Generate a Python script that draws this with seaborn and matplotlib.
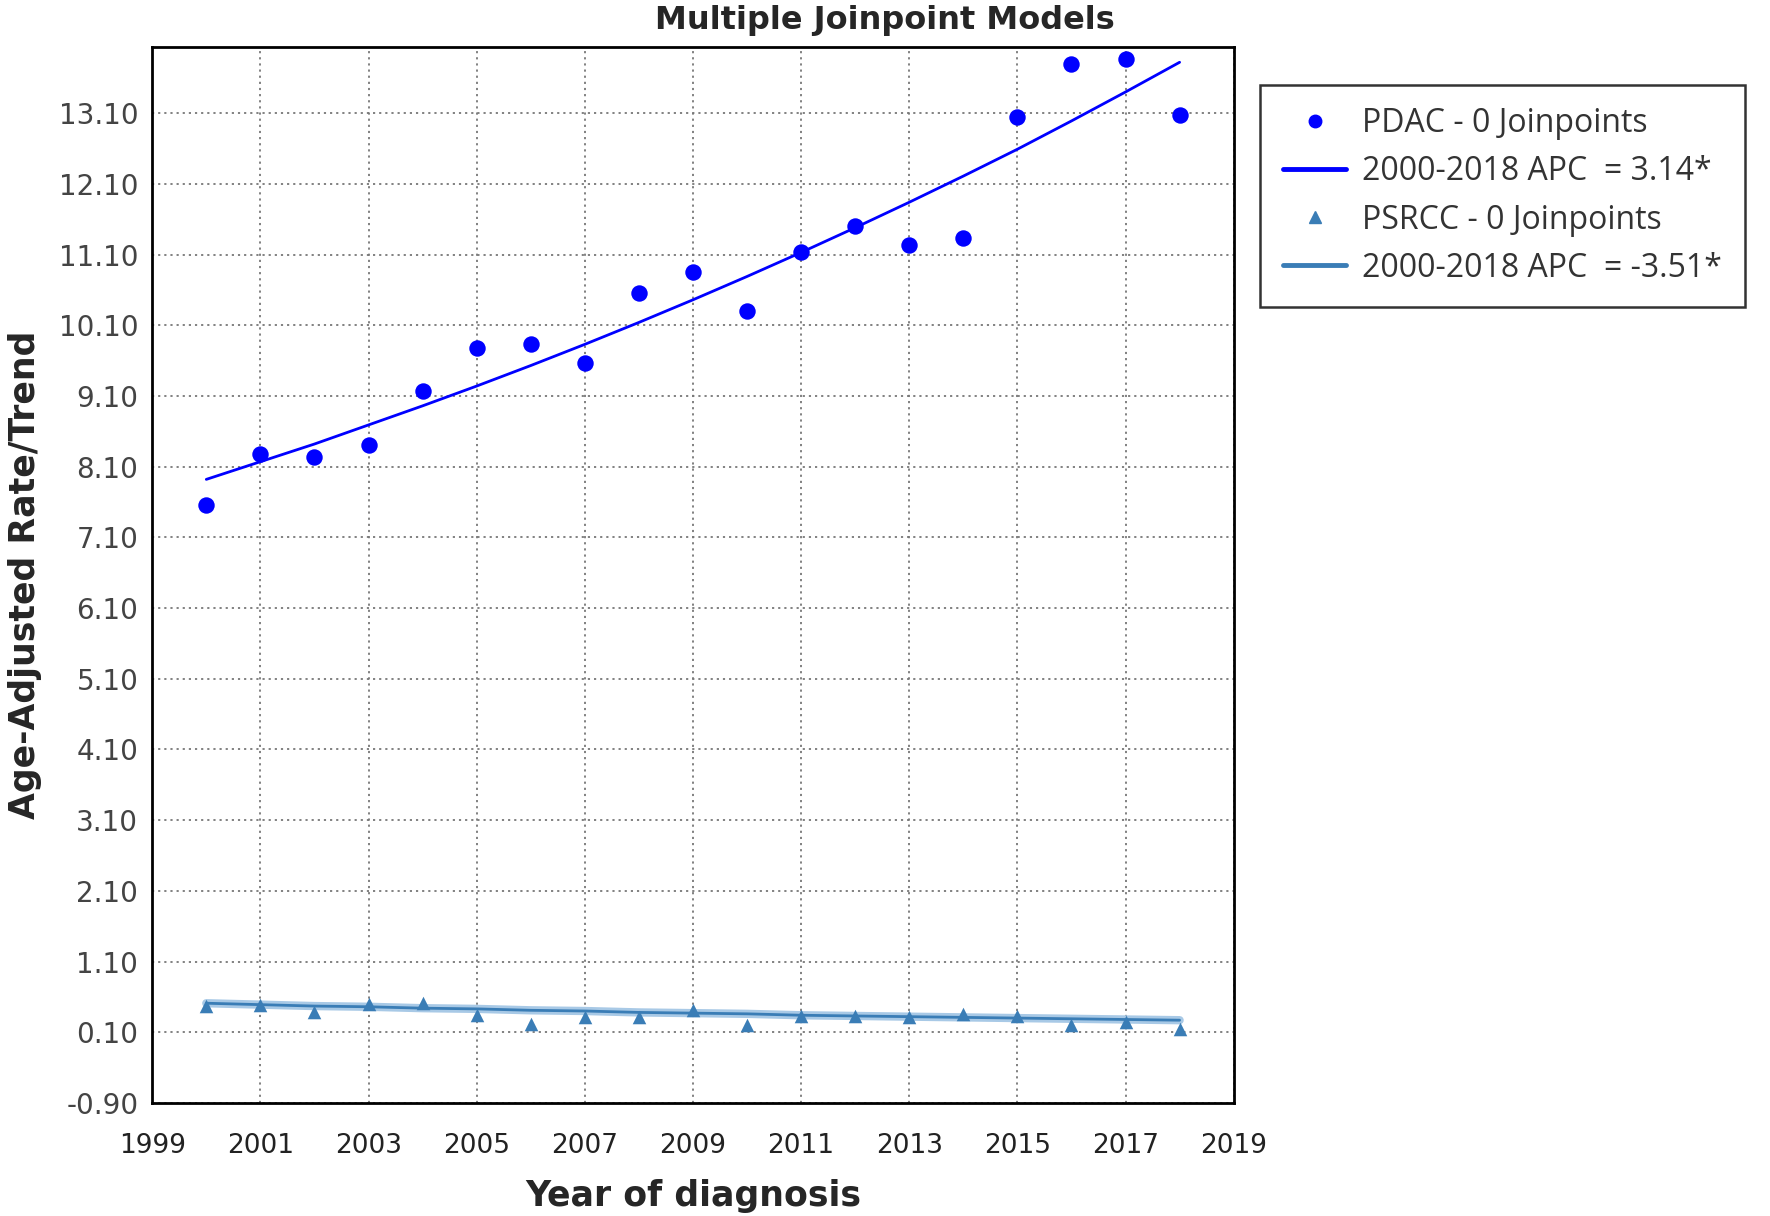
import numpy as np
import pandas as pd
import matplotlib
matplotlib.use("Agg")
import matplotlib.pyplot as plt
import seaborn as sns
from matplotlib.lines import Line2D

years = list(range(2000, 2019))
pdac_rate = [7.56, 8.28, 8.23, 8.40, 9.17, 9.78, 9.84, 9.57, 10.56, 10.85,
             10.30, 11.14, 11.50, 11.23, 11.33, 13.04, 13.79, 13.87, 13.08]
pdac_trend = [7.92, 8.17, 8.42, 8.69, 8.96, 9.24, 9.53, 9.83, 10.14, 10.46,
              10.79, 11.13, 11.48, 11.84, 12.21, 12.59, 12.99, 13.40, 13.82]
psrcc_rate = [0.47, 0.48, 0.38, 0.50, 0.52, 0.35, 0.22, 0.31, 0.31, 0.42,
              0.20, 0.33, 0.33, 0.32, 0.36, 0.33, 0.20, 0.24, 0.14]
psrcc_trend = [0.51, 0.49, 0.47, 0.46, 0.44, 0.43, 0.41, 0.40, 0.38, 0.37,
               0.36, 0.34, 0.33, 0.32, 0.31, 0.30, 0.29, 0.28, 0.27]
legend_labels = ["PDAC - 0 Joinpoints", "2000-2018 APC  = 3.14*",
                 "PSRCC - 0 Joinpoints", "2000-2018 APC  = -3.51*"]
x_ticks = list(range(1999, 2020, 2))
y_ticks = [-0.9 + k for k in range(15)]

sns.set_theme(style="white")
plt.rcParams['font.family'] = ['DejaVu Sans']

df = pd.DataFrame({"year": years, "pdac": pdac_rate, "pdac_t": pdac_trend,
                   "psrcc": psrcc_rate, "psrcc_t": psrcc_trend})

fig = plt.figure(figsize=(17.7, 12.16), dpi=100)
ax = fig.add_axes([0.086, 0.093, 0.611, 0.868])

c1 = "#0000FF"
c2 = "#3A7DB6"

sns.lineplot(data=df, x="year", y="psrcc_t", ax=ax, color="#a8c9e6", linewidth=6, zorder=2)
sns.lineplot(data=df, x="year", y="psrcc_t", ax=ax, color=c2, linewidth=2, zorder=3)
sns.scatterplot(data=df, x="year", y="psrcc", ax=ax, color=c2, marker="^", s=95,
                edgecolor=c2, linewidth=0, zorder=4)
sns.lineplot(data=df, x="year", y="pdac_t", ax=ax, color=c1, linewidth=2, zorder=3)
sns.scatterplot(data=df, x="year", y="pdac", ax=ax, color=c1, marker="o", s=140,
                edgecolor=c1, linewidth=0, zorder=4)

ax.set_xlim(1999, 2019)
ax.set_ylim(-0.9, 14.03)
ax.set_xticks(x_ticks)
ax.set_xticklabels([str(v) for v in x_ticks], fontsize=19, color="#222222")
ax.set_yticks(y_ticks)
ax.set_yticklabels([f"{v:.2f}" for v in y_ticks], fontsize=20, color="#444444")
ax.tick_params(length=0)
ax.tick_params(axis="y", pad=10)
ax.tick_params(axis="x", pad=22)
ax.grid(True, linestyle=(0, (1.2, 2.2)), color="#777777", linewidth=1.3)
for s in ax.spines.values():
    s.set_color("black")
    s.set_linewidth(2)

ax.set_xlabel("Year of diagnosis", fontsize=25, fontweight="bold", labelpad=14)
ax.set_ylabel("Age-Adjusted Rate/Trend", fontsize=25, fontweight="bold", labelpad=12)
fig.suptitle("Multiple Joinpoint Models", fontsize=23, fontweight="bold",
             x=0.5, y=0.996, va="top")

handles = [
    Line2D([], [], marker="o", color=c1, linestyle="none", markersize=9),
    Line2D([], [], color=c1, linewidth=3.5),
    Line2D([], [], marker="^", color=c2, linestyle="none", markersize=8),
    Line2D([], [], color=c2, linewidth=3.5),
]
leg = ax.legend(handles, legend_labels, loc="upper left",
                bbox_to_anchor=(0.712, 0.930), bbox_transform=fig.transFigure,
                frameon=True, fancybox=False, edgecolor="black",
                prop={"family": "Open Sans", "size": 23}, handlelength=2.0,
                labelspacing=0.47, borderpad=0.7, borderaxespad=0,
                handletextpad=0.5)
leg.get_frame().set_linewidth(1.8)
for t in leg.get_texts():
    t.set_color("#333333")

fig.savefig("out.png", dpi=100)
